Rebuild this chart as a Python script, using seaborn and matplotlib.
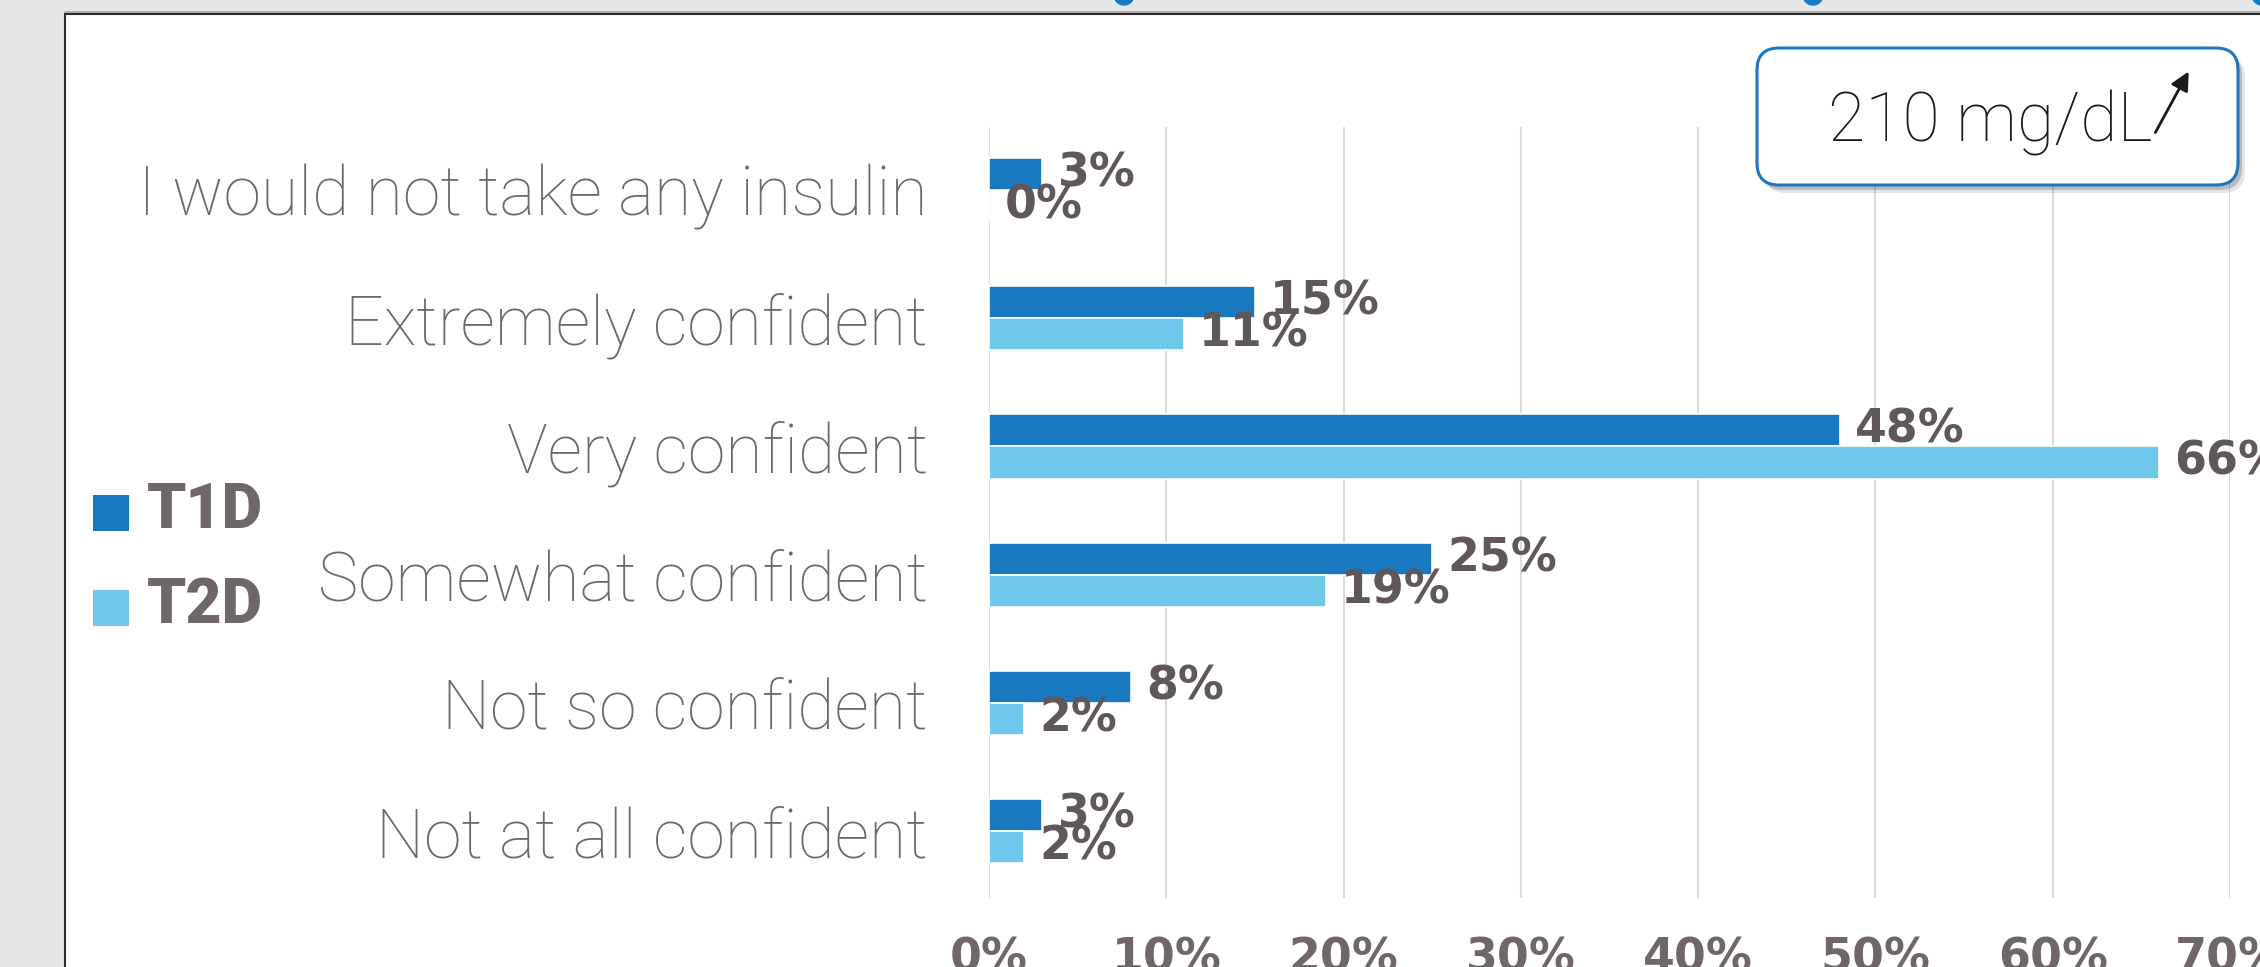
import matplotlib
matplotlib.use("Agg")
import matplotlib.pyplot as plt
import pandas as pd
import seaborn as sns
from matplotlib.patches import Rectangle, FancyBboxPatch, FancyArrowPatch, Circle

# data
responses = [
    "I would not take any insulin",
    "Extremely confident",
    "Very confident",
    "Somewhat confident",
    "Not so confident",
    "Not at all confident",
]
t1d = [3, 15, 48, 25, 8, 3]
t2d = [0, 11, 66, 19, 2, 2]
groups = ["T1D", "T2D"]
x_ticks = [0, 10, 20, 30, 40, 50, 60, 70]
callout = "210 mg/dL"

DARK = "#1878c0"
LIGHT = "#6dc8ea"
TXT = "#6f6668"
LBL = "#5f5759"

df = pd.DataFrame({
    "response": responses * 2,
    "pct": t1d + t2d,
    "group": [groups[0]] * len(t1d) + [groups[1]] * len(t2d),
})

sns.set_style("white")
plt.rcParams["font.family"] = ["Roboto", "DejaVu Sans"]

W, H = 2260, 967
fig = plt.figure(figsize=(W / 100, H / 100), dpi=100, facecolor="#e6e7e8")
inch = fig.dpi_scale_trans


def top(y):
    # pixel row measured from the top -> inches from the bottom
    return (H - y) / 100


# white slide panel with its dark edge
fig.add_artist(Rectangle((0.65, -0.2), 30, top(14) + 0.2, transform=inch,
                         facecolor="white", edgecolor="#2b2b2b", lw=1.5, zorder=-5))
fig.add_artist(plt.Line2D([0.65, 30], [top(12), top(12)], transform=inch,
                          color="#a0a0a0", lw=1.2, zorder=-4))
for cx in [1124, 1813, 2262]:
    fig.add_artist(Circle((cx / 100, top(-5)), 0.10, transform=inch,
                          color="#1a7cc4", zorder=3))

ax = fig.add_axes([989 / W, 1 - 898 / H, (2230 - 989) / W, (898 - 127) / H])
sns.barplot(data=df, x="pct", y="response", hue="group", orient="h",
            palette=[DARK, LIGHT], saturation=1, width=0.5, ax=ax,
            legend=False, edgecolor="white", linewidth=1.2)

for cont in ax.containers:
    ax.bar_label(cont, fmt="%g%%", padding=11, fontsize=33, fontweight="bold",
                 color=LBL, family="DejaVu Sans", clip_on=False)

ax.set_xlim(0, 70)
ax.set_ylim(len(responses) - 0.48, -0.49)
ax.set_xticks(x_ticks)
ax.set_xticklabels([f"{t}%" for t in x_ticks], family="DejaVu Sans",
                   fontweight="bold", fontsize=33, color=TXT)
ax.set_yticks(range(len(responses)))
ax.set_yticklabels(responses, fontsize=49, fontweight="light", color=TXT)
ax.tick_params(axis="x", length=0, pad=28)
ax.tick_params(axis="y", length=0, pad=44)
ax.set_xlabel("")
ax.set_ylabel("")
ax.xaxis.grid(True, color="#dcdcdc", lw=1.5)
ax.yaxis.grid(False)
ax.set_axisbelow(True)
sns.despine(ax=ax, left=True, bottom=True)

# legend drawn by hand to sit at the far left
for name, col, ybase in [(groups[0], DARK, 528), (groups[1], LIGHT, 623)]:
    fig.add_artist(Rectangle((0.93, top(ybase + 3)), 0.36, 0.36, transform=inch,
                             facecolor=col, edgecolor="none"))
    fig.text(1.47, top(ybase), name, transform=inch, fontsize=45,
             fontweight="black", color=TXT, va="baseline")

# call-out box with shadow
for dx, dy, a in [(0.07, -0.08, 0.10), (0.04, -0.05, 0.18)]:
    fig.add_artist(FancyBboxPatch((17.57 + dx, top(185) + dy), 4.81, 1.37,
                                  boxstyle="round,pad=0,rounding_size=0.22",
                                  transform=inch, facecolor="black", alpha=a,
                                  edgecolor="none", zorder=2))
fig.add_artist(FancyBboxPatch((17.57, top(185)), 4.81, 1.37,
                              boxstyle="round,pad=0,rounding_size=0.22",
                              transform=inch, facecolor="white",
                              edgecolor="#1a78c2", lw=2.2, zorder=2.1))
fig.text(18.28, top(141), callout, transform=inch, fontsize=49,
         fontweight="light", color="#1a1a1a", va="baseline", zorder=3)
fig.add_artist(FancyArrowPatch((21.54, top(135)), (21.90, top(69)),
                               transform=inch, arrowstyle="-|>",
                               mutation_scale=28, color="#1a1a1a", lw=2,
                               zorder=3))

fig.savefig("out.png", dpi=100, facecolor=fig.get_facecolor())
